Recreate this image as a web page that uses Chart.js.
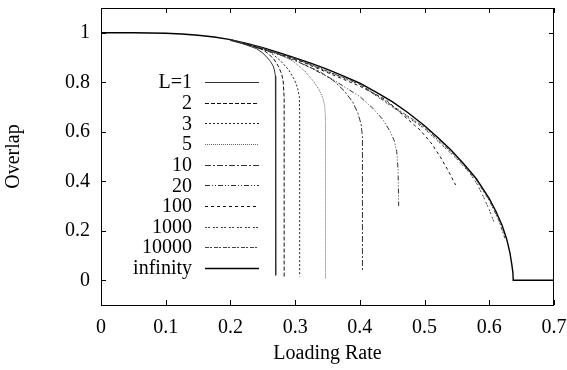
<!DOCTYPE html>
<html>
<head>
<meta charset="utf-8">
<script src="https://cdn.jsdelivr.net/npm/chart.js@4/dist/chart.umd.min.js"></script>
<style>
html,body{margin:0;padding:0;background:#fff;}
#wrap{width:567px;height:370px;}
</style>
</head>
<body>
<div id="wrap"><canvas id="c" width="567" height="370"></canvas></div>
<script>
// ---- data ----
const seriesLabels = ['L=1','2','3','5','10','20','100','1000','10000','infinity'];
const xTicks = [0, 0.1, 0.2, 0.3, 0.4, 0.5, 0.6, 0.7];
const xTickLabels = ['0','0.1','0.2','0.3','0.4','0.5','0.6','0.7'];
const yTicks = [0, 0.2, 0.4, 0.6, 0.8, 1];
const yTickLabels = ['0','0.2','0.4','0.6','0.8','1'];

const rateL1 = [0.2, 0.22, 0.24, 0.25, 0.256, 0.262, 0.266, 0.268, 0.2695, 0.27, 0.27];
const overlapL1 = [0.969, 0.955, 0.936, 0.918, 0.902, 0.884, 0.866, 0.85, 0.825, 0.79, 0.02];
const rateL2 = [0.2, 0.23, 0.25, 0.26, 0.268, 0.274, 0.279, 0.2815, 0.283, 0.283];
const overlapL2 = [0.97, 0.952, 0.932, 0.912, 0.89, 0.865, 0.835, 0.805, 0.74, 0.01];
const rateL3 = [0.2, 0.24, 0.26, 0.277, 0.29, 0.299, 0.304, 0.3065, 0.307, 0.307];
const overlapL3 = [0.97, 0.945, 0.925, 0.888, 0.85, 0.81, 0.775, 0.74, 0.68, 0.015];
const rateL5 = [0.2, 0.25, 0.28, 0.297, 0.315, 0.328, 0.337, 0.343, 0.346, 0.347, 0.347];
const overlapL5 = [0.971, 0.937, 0.907, 0.885, 0.845, 0.805, 0.77, 0.735, 0.7, 0.64, 0.005];
const rateL10 = [0.2, 0.25, 0.3, 0.338, 0.36, 0.376, 0.389, 0.397, 0.402, 0.404, 0.404];
const overlapL10 = [0.971, 0.938, 0.887, 0.843, 0.805, 0.765, 0.72, 0.675, 0.63, 0.58, 0.035];
const rateL20 = [0.2, 0.3, 0.359, 0.4, 0.42, 0.436, 0.447, 0.453, 0.457, 0.459, 0.46];
const overlapL20 = [0.972, 0.891, 0.81, 0.742, 0.695, 0.648, 0.6, 0.565, 0.52, 0.45, 0.30];
const rateL100 = [0.2, 0.3, 0.4, 0.44, 0.462, 0.493, 0.51, 0.524, 0.537, 0.548];
const overlapL100 = [0.972, 0.894, 0.784, 0.73, 0.678, 0.607, 0.555, 0.5, 0.44, 0.385];
const rateL1000 = [0.2, 0.3, 0.4, 0.5, 0.55, 0.57, 0.582, 0.591, 0.6, 0.608];
const overlapL1000 = [0.972, 0.896, 0.79, 0.612, 0.49, 0.432, 0.385, 0.337, 0.285, 0.23];
const rateL10000 = [0.2, 0.3, 0.4, 0.5, 0.55, 0.58, 0.6, 0.615, 0.624];
const overlapL10000 = [0.972, 0.897, 0.793, 0.618, 0.497, 0.405, 0.322, 0.24, 0.17];
const rateInf = [0, 0.05, 0.1, 0.125, 0.15, 0.175, 0.2, 0.225, 0.25, 0.275, 0.3, 0.325, 0.35, 0.375, 0.4, 0.425, 0.45, 0.475, 0.5, 0.52, 0.54, 0.56, 0.58, 0.6, 0.61, 0.62, 0.627, 0.632, 0.635, 0.6365, 0.637, 0.7];
const overlapInf = [1, 1, 0.998, 0.995, 0.99, 0.983, 0.972, 0.957, 0.94, 0.92, 0.898, 0.876, 0.852, 0.825, 0.796, 0.76, 0.722, 0.676, 0.624, 0.578, 0.528, 0.472, 0.41, 0.33, 0.28, 0.22, 0.165, 0.11, 0.06, 0.03, 0, 0];

const seriesX = [rateL1, rateL2, rateL3, rateL5, rateL10, rateL20, rateL100, rateL1000, rateL10000, rateInf];
const seriesY = [overlapL1, overlapL2, overlapL3, overlapL5, overlapL10, overlapL20, overlapL100, overlapL1000, overlapL10000, overlapInf];

// ---- styles ----
const styles = [
  {color:'#333', dash:[], width:1},
  {color:'#111', dash:[4,2], width:1},
  {color:'#222', dash:[2,2], width:1},
  {color:'#666', dash:[1,1], width:1},
  {color:'#333', dash:[6,2,2,2], width:1},
  {color:'#333', dash:[5,2,1,2,1,2], width:1},
  {color:'#111', dash:[3,3], width:1},
  {color:'#444', dash:[2,1,2,3], width:1},
  {color:'#444', dash:[4,1,2,2], width:1},
  {color:'#000', dash:[], width:1.4}
];

const datasets = seriesLabels.map((lab, i) => ({
  label: lab,
  data: seriesX[i].map((x, k) => ({x: x, y: seriesY[i][k]})),
  borderColor: styles[i].color,
  borderDash: styles[i].dash,
  borderWidth: styles[i].width,
  showLine: true,
  pointRadius: 0,
  tension: 0,
  fill: false
}));

Chart.defaults.font.family = "'Liberation Serif', 'DejaVu Serif', serif";
Chart.defaults.font.size = 20;
Chart.defaults.color = '#000';

const framePlugin = {
  id: 'frame',
  afterDatasetsDraw(chart) {
    const {ctx, chartArea: a, scales: {x, y}} = chart;
    ctx.save();
    ctx.setLineDash([]);
    ctx.strokeStyle = '#000';
    ctx.lineWidth = 1;
    ctx.strokeRect(Math.round(a.left) + 0.5, Math.round(a.top) + 0.5, Math.round(a.right - a.left) - 1, Math.round(a.bottom - a.top));
    const tl = 5;
    ctx.beginPath();
    xTicks.forEach(v => {
      const px = Math.round(x.getPixelForValue(v)) + 0.5;
      ctx.moveTo(px, a.bottom); ctx.lineTo(px, a.bottom - tl);
      ctx.moveTo(px, a.top); ctx.lineTo(px, a.top + tl);
    });
    yTicks.forEach(v => {
      const py = Math.round(y.getPixelForValue(v)) + 0.5;
      ctx.moveTo(a.left, py); ctx.lineTo(a.left + tl, py);
      ctx.moveTo(a.right, py); ctx.lineTo(a.right - tl, py);
    });
    ctx.stroke();

    // legend (inside plot, text right-aligned, sample to the right)
    const textRight = a.left + 91;
    const sx0 = a.left + 104, sx1 = a.left + 158;
    const y0 = a.top + 74, dy = 20.65;
    ctx.font = "20px 'Liberation Serif', serif";
    ctx.textAlign = 'right';
    ctx.textBaseline = 'middle';
    ctx.fillStyle = '#000';
    chart.data.datasets.forEach((ds, i) => {
      const yy = y0 + i * dy;
      ctx.fillText(ds.label, textRight, yy + 1);
      ctx.strokeStyle = ds.borderColor;
      ctx.lineWidth = ds.borderWidth;
      ctx.setLineDash(ds.borderDash);
      ctx.beginPath();
      ctx.moveTo(sx0, Math.round(yy) + 0.5);
      ctx.lineTo(sx1, Math.round(yy) + 0.5);
      ctx.stroke();
    });
    ctx.restore();
  }
};

new Chart(document.getElementById('c'), {
  type: 'scatter',
  data: {datasets},
  options: {
    responsive: false,
    animation: false,
    devicePixelRatio: 1,
    layout: {padding: {left: 0, right: 13, top: 8, bottom: 0}},
    plugins: {legend: {display: false}, tooltip: {enabled: false}},
    scales: {
      x: {
        type: 'linear', min: 0, max: 0.7,
        grid: {display: false, drawTicks: false},
        border: {display: false},
        afterBuildTicks: s => { s.ticks = xTicks.map(v => ({value: v})); },
        afterFit: s => { s.height = 65; s.paddingLeft = 0; s.paddingRight = 0; s.paddingTop = 0; s.paddingBottom = 0; },
        ticks: {padding: 11, maxRotation: 0, autoSkip: false,
          callback: (v) => { const i = xTicks.indexOf(v); return i >= 0 ? xTickLabels[i] : ''; }},
        title: {display: true, text: 'Loading Rate', padding: {top: 0, bottom: 4}}
      },
      y: {
        type: 'linear', min: -0.1, max: 1.1,
        grid: {display: false, drawTicks: false},
        border: {display: false},
        afterBuildTicks: s => { s.ticks = yTicks.map(v => ({value: v})); },
        afterFit: s => { s.width = 101; s.paddingLeft = 0; s.paddingRight = 0; s.paddingTop = 0; s.paddingBottom = 0; },
        ticks: {padding: 11, autoSkip: false,
          callback: (v) => { const i = yTicks.indexOf(v); return i >= 0 ? yTickLabels[i] : ''; }},
        title: {display: true, text: 'Overlap', padding: {top: 2, bottom: 2}}
      }
    }
  },
  plugins: [framePlugin]
});
</script>
</body>
</html>
